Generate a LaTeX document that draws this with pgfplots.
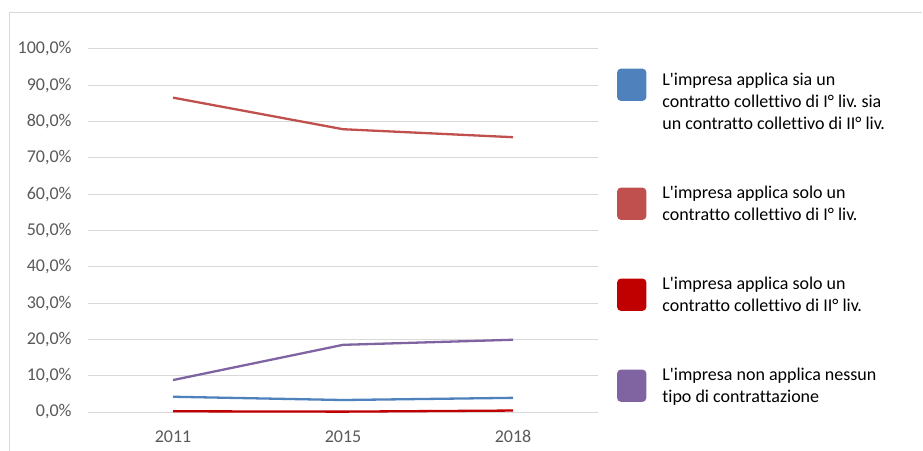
\documentclass[border=0pt]{standalone}
\usepackage{pgfplots}
\pgfplotsset{compat=1.18}
\usepackage{fontspec}
\setmainfont{Carlito}[Ligatures={NoCommon}]
\frenchspacing
\definecolor{cblue}{HTML}{4F81BD}
\definecolor{cred}{HTML}{C0504D}
\definecolor{cdred}{HTML}{C00000}
\definecolor{cpurple}{HTML}{8064A2}
\definecolor{cgrid}{HTML}{D9D9D9}
\definecolor{ctick}{HTML}{595959}
\newcommand{\ap}{\textquotesingle}
\begin{document}
\begin{tikzpicture}
\useasboundingbox (0,0) rectangle (923bp,451bp);
\draw[cgrid, line width=1bp] (9bp,0) -- (9bp,438bp) -- (922bp,438bp);
\begin{axis}[
  at={(88bp,39bp)}, anchor=south west,
  scale only axis, width=510bp, height=363bp,
  xmin=-0.5, xmax=2.5, ymin=0, ymax=100,
  xtick={0,1,2}, xticklabels={2011,2015,2018},
  ytick={0,10,...,100},
  yticklabels={{0,0\%},{10,0\%},{20,0\%},{30,0\%},{40,0\%},{50,0\%},{60,0\%},{70,0\%},{80,0\%},{90,0\%},{100,0\%}},
  axis line style={draw=none},
  major tick style={draw=none},
  ymajorgrids, grid style={cgrid, line width=1bp},
  tick label style={font=\fontsize{18bp}{22bp}\selectfont, text=ctick},
  yticklabel style={xshift=-13bp},
  xticklabel style={yshift=-15bp},
  clip=false,
  legend cell align=left,
  legend style={draw=none, fill=none, at={(1.037,0.9465)}, anchor=north west, inner sep=0pt,
    row sep=51bp, font=\fontsize{18bp}{22bp}\selectfont,
    nodes={align=left, text=black, inner xsep=16bp}},
  legend image code/.code={\fill[#1, rounded corners=3bp] (0bp,-15bp) rectangle (27bp,15bp);},
]
\addplot[color=cblue, line width=2.3bp,
  legend image code/.code={\fill[cblue, rounded corners=3bp] (0bp,2bp) rectangle (27bp,32bp);}]
  coordinates {(0,4.2) (1,3.3) (2,3.9)};
\addlegendentry{L\ap impresa applica sia un\\contratto collettivo di I° liv. sia\\un contratto collettivo di II° liv.}
\addplot[color=cred, line width=2.3bp] coordinates {(0,86.6) (1,77.9) (2,75.7)};
\addlegendentry{L\ap impresa applica solo un\\contratto collettivo di I° liv.}
\addplot[color=cdred, line width=2.3bp] coordinates {(0,0.2) (1,0.1) (2,0.4)};
\addlegendentry{L\ap impresa applica solo un\\contratto collettivo di II° liv.}
\addplot[color=cpurple, line width=2.3bp] coordinates {(0,8.8) (1,18.5) (2,19.9)};
\addlegendentry{L\ap impresa non applica nessun\\tipo di contrattazione}
\end{axis}
\end{tikzpicture}
\end{document}
